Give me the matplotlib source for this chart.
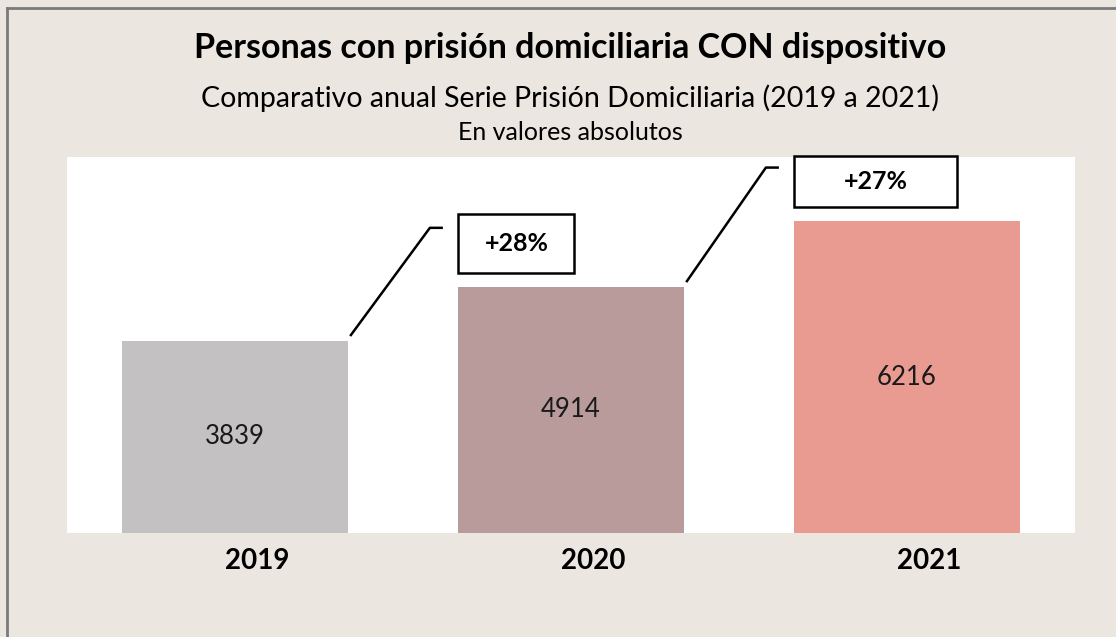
import matplotlib
matplotlib.use('Agg')
import matplotlib.pyplot as plt
import matplotlib.transforms as mtransforms
from matplotlib.patches import Rectangle

years = ['2019', '2020', '2021']
values = [3839, 4914, 6216]
changes = ['', '+28%', '+27%']
bar_colors = ['#c3c1c2', '#b99b9b', '#ea9b91']

BG = '#ebe6e0'
plt.rcParams['font.family'] = ['Lato', 'DejaVu Sans']

fig = plt.figure(figsize=(11.16, 6.37), dpi=100)
fig.patch.set_facecolor(BG)

# outer frame (only top and left edges are visible in the reference)
fig.add_artist(plt.Line2D([7 / 1116, 7 / 1116], [0, 1 - 8 / 637], transform=fig.transFigure,
                          color='#7a7a7a', lw=2))
fig.add_artist(plt.Line2D([7 / 1116, 1], [1 - 8 / 637, 1 - 8 / 637], transform=fig.transFigure,
                          color='#7a7a7a', lw=2))

# plot area in pixel coords: x 67-1075, y 157-533
ax = fig.add_axes([67 / 1116, 1 - 533 / 637, 1008 / 1116, 376 / 637])
ax.set_facecolor('white')
x = range(len(years))
ax.bar(x, values, width=0.67, color=bar_colors)
ax.set_xlim(-0.5, 2.5)
ax.set_ylim(0, 7500)
ax.set_yticks([])
ax.set_xticks(list(x))
ax.set_xticklabels(years, fontsize=20, fontweight='bold')
ax.tick_params(axis='x', length=0, pad=11)
# year labels sit a little right of the bar centres in the reference
shift = mtransforms.ScaledTranslation(0.22, 0, fig.dpi_scale_trans)
for lab in ax.get_xticklabels():
    lab.set_transform(lab.get_transform() + shift)
for s in ax.spines.values():
    s.set_visible(False)

for i, v in enumerate(values):
    ax.text(i, v / 2, str(v), ha='center', va='center', fontsize=18.5, color='#1a1a1a')

# change annotations: box above bar i, connector from previous bar's top-right corner
for i in range(1, len(values)):
    bx0 = i - 0.335
    bw = 0.345 if i == 1 else 0.485
    by0 = values[i] + 280
    bh = 1160 if i == 1 else 1030
    ax.add_patch(Rectangle((bx0, by0), bw, bh, facecolor='white', edgecolor='black',
                           lw=1.8, clip_on=False, zorder=4))
    ax.text(bx0 + bw / 2, by0 + bh / 2, changes[i], ha='center', va='center',
            fontsize=18, fontweight='bold', zorder=5)
    sx = i - 1 + 0.345
    sy = values[i - 1] + 110
    ex = bx0 - 0.05
    ey = by0 + bh * 0.77
    ax.plot([sx, ex - 0.035, ex], [sy, ey, ey], color='black', lw=1.8,
            clip_on=False, zorder=4)

fig.text(570 / 1116, 1 - 48 / 637, 'Personas con prisión domiciliaria CON dispositivo',
         ha='center', va='center', fontsize=24.5, fontweight='bold')
fig.text(570 / 1116, 1 - 98 / 637, 'Comparativo anual Serie Prisión Domiciliaria (2019 a 2021)',
         ha='center', va='center', fontsize=20.5)
fig.text(570 / 1116, 1 - 132 / 637, 'En valores absolutos',
         ha='center', va='center', fontsize=18)

fig.savefig('out.png', dpi=100, facecolor=BG)
